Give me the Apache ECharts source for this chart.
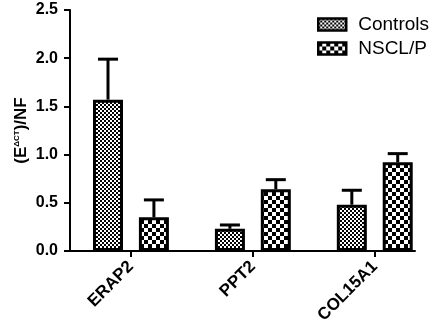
<!DOCTYPE html>
<html><head><meta charset="utf-8">
<script src="https://cdn.jsdelivr.net/npm/echarts@6/dist/echarts.min.js"></script>
<style>html,body{margin:0;padding:0;background:#fff}#c{width:438px;height:333px}</style>
</head><body><div id="c"></div>
<script>
const categories = ['ERAP2', 'PPT2', 'COL15A1'];
const controlsMean = [1.57, 0.23, 0.48];
const controlsErr = [0.42, 0.04, 0.15];
const nsclMean = [0.35, 0.64, 0.92];
const nsclErr = [0.18, 0.10, 0.09];
const yTicks = [0, 0.5, 1.0, 1.5, 2.0, 2.5];

function pattern(cell) {
  const c = document.createElement('canvas');
  c.width = c.height = cell * 2;
  const g = c.getContext('2d');
  g.fillStyle = '#fff'; g.fillRect(0, 0, cell * 2, cell * 2);
  g.fillStyle = '#000';
  g.fillRect(0, 0, cell, cell); g.fillRect(cell, cell, cell, cell);
  return { image: c, repeat: 'repeat' };
}
const BAR_W = 30, GAP = 0.53;
const OFF = BAR_W * (1 + GAP) / 2;

function errSeries(mean, err, sign) {
  return {
    type: 'custom', z: 5, silent: true,
    data: mean.map((m, i) => [i, m, m + err[i]]),
    renderItem: function (params, api) {
      const b = api.coord([api.value(0), api.value(1)]);
      const t = api.coord([api.value(0), api.value(2)]);
      const x = b[0] + sign * OFF;
      return { type: 'group', children: [
        { type: 'line', shape: { x1: x, y1: b[1], x2: x, y2: t[1] }, style: { stroke: '#000', lineWidth: 3 } },
        { type: 'line', shape: { x1: x - 10, y1: t[1], x2: x + 10, y2: t[1] }, style: { stroke: '#000', lineWidth: 3 } }
      ]};
    }
  };
}

const chart = echarts.init(document.getElementById('c'));
chart.setOption({
  animation: false,
  grid: { left: 70, right: 23, top: 10, bottom: 82 },
  legend: {
    left: 312, top: 10, orient: 'vertical', icon: 'rect', itemWidth: 28, itemHeight: 12, itemGap: 5,
    itemStyle: { borderColor: '#000', borderWidth: 2.5 },
    textStyle: { fontFamily: 'Liberation Sans, Arial', fontSize: 19, color: '#000', padding: [0, 0, 0, 7] },
    data: ['Controls', 'NSCL/P']
  },
  xAxis: {
    type: 'value', min: -0.5, max: 2.33,
    axisLine: { onZero: false, lineStyle: { color: '#000', width: 2 } },
    axisTick: { show: true, length: 6, lineStyle: { color: '#000', width: 2 }, customValues: [0, 1, 2] },
    axisLabel: {
      customValues: [0, 1, 2], rotate: 45, margin: 13,
      formatter: v => categories[Math.round(v)],
      fontFamily: 'Liberation Sans, Arial', fontWeight: 'bold', fontSize: 17, color: '#000'
    },
    splitLine: { show: false }
  },
  yAxis: {
    type: 'value', min: 0, max: 2.5, interval: 0.5,
    name: '{a|(E}{s|ΔCT}{a|)/NF}', nameLocation: 'middle', nameGap: 40, nameRotate: 90,
    nameMoveOverlap: false,
    nameTextStyle: { rich: {
      a: { fontFamily: 'Liberation Sans, Arial', fontWeight: 'bold', fontSize: 17, color: '#000' },
      s: { fontFamily: 'Liberation Sans, Arial', fontWeight: 'bold', fontSize: 8, color: '#000', verticalAlign: 'top', padding: [0, 0, 7, 0] }
    } },
    axisLine: { show: true, onZero: false, lineStyle: { color: '#000', width: 2 } },
    axisTick: { show: true, length: 6, lineStyle: { color: '#000', width: 2 } },
    axisLabel: {
      margin: 12, formatter: v => v.toFixed(1),
      fontFamily: 'Liberation Sans, Arial', fontWeight: 'bold', fontSize: 16, color: '#000'
    },
    splitLine: { show: false }
  },
  series: [
    { name: 'Controls', type: 'bar', barWidth: BAR_W, barGap: (GAP * 100) + '%',
      data: controlsMean.map((v, i) => [i, v]),
      itemStyle: { color: pattern(2), borderColor: '#000', borderWidth: 3 } },
    { name: 'NSCL/P', type: 'bar', barWidth: BAR_W, barGap: (GAP * 100) + '%',
      data: nsclMean.map((v, i) => [i, v]),
      itemStyle: { color: pattern(4), borderColor: '#000', borderWidth: 3 } },
    errSeries(controlsMean, controlsErr, -1),
    errSeries(nsclMean, nsclErr, 1)
  ]
});
</script></body></html>
